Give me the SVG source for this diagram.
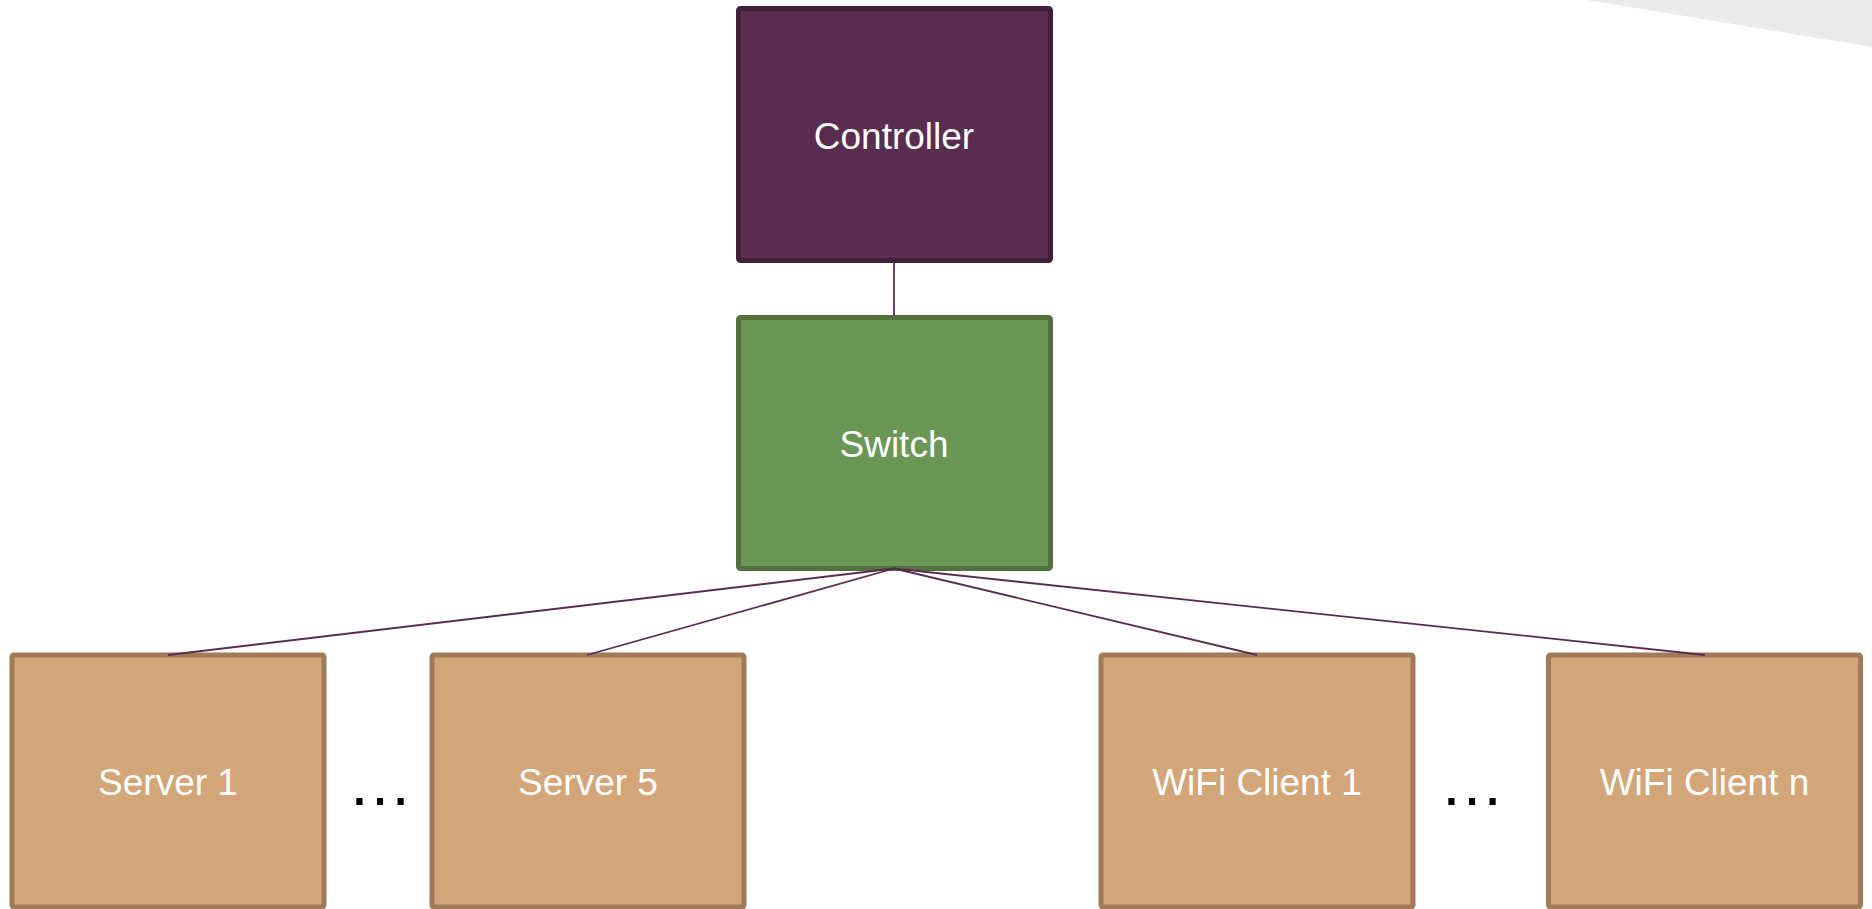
<svg xmlns="http://www.w3.org/2000/svg" width="1872" height="909" viewBox="0 0 1872 909">
  <style>
    .box { stroke-width: 5; }
    .ctrl { fill: #592d4f; stroke: #411f39; }
    .sw { fill: #6a9755; stroke: #53713f; }
    .host { fill: #d3a679; stroke: #a17b59; }
    .label { font-family: "Liberation Sans", Arial, sans-serif; font-size: 37px; fill: #ffffff; text-anchor: middle; }
    .dots { font-family: "Liberation Sans", Arial, sans-serif; font-size: 65px; fill: #000000; }
    .link { stroke: #5a2d50; stroke-width: 1.8; fill: none; }
  </style>
  <rect width="1872" height="909" fill="#ffffff"/>
  <!-- corner band -->
  <polygon points="1587,0 1872,0 1872,47" fill="#ebebeb"/>

  <g id="controller">
    <rect class="box ctrl" x="738.5" y="8.5" width="312" height="252" rx="2"/>
    <text class="label" x="894" y="149">Controller</text>
  </g>
  <g id="switch">
    <rect class="box sw" x="738.5" y="317.5" width="312" height="251" rx="2"/>
    <text class="label" x="894" y="457">Switch</text>
  </g>
  <g id="server1">
    <rect class="box host" x="12" y="655" width="312" height="252" rx="2"/>
    <text class="label" x="168" y="795">Server 1</text>
  </g>
  <g id="server5">
    <rect class="box host" x="432" y="655" width="312" height="252" rx="2"/>
    <text class="label" x="588" y="795">Server 5</text>
  </g>
  <g id="wifi1">
    <rect class="box host" x="1101" y="655" width="312" height="252" rx="2"/>
    <text class="label" x="1257" y="795">WiFi Client 1</text>
  </g>
  <g id="wifin">
    <rect class="box host" x="1548.5" y="655" width="312" height="252" rx="2"/>
    <text class="label" x="1704.5" y="795">WiFi Client n</text>
  </g>

  <g id="connectors">
    <line class="link" x1="894" y1="262" x2="894" y2="316"/>
    <line class="link" x1="894" y1="568.5" x2="168" y2="655"/>
    <line class="link" x1="894" y1="568.5" x2="587" y2="655"/>
    <line class="link" x1="894" y1="568.5" x2="1257" y2="655"/>
    <line class="link" x1="894" y1="568.5" x2="1705" y2="655"/>
  </g>

  <text class="dots" x="380" y="805" text-anchor="middle">…</text>
  <text class="dots" x="1472" y="805" text-anchor="middle">…</text>
</svg>
